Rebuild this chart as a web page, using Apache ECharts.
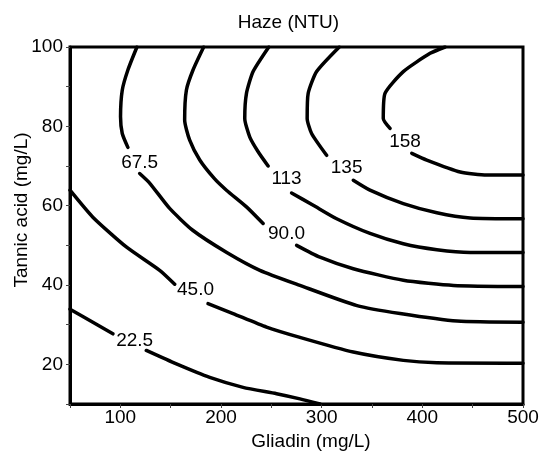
<!DOCTYPE html>
<html>
<head>
<meta charset="utf-8">
<script src="https://cdn.jsdelivr.net/npm/echarts@6/dist/echarts.min.js"></script>
<style>
  html, body { margin: 0; padding: 0; background: #fff; }
  #chart { width: 544px; height: 453px; }
</style>
</head>
<body>
<div id="chart"></div>
<script>
// Haze contour levels (NTU)
const levels = [22.5, 45, 67.5, 90, 112.5, 135, 157.5];

// Axis tick labels
const gliadinTicks = [100, 200, 300, 400, 500];
const tannicTicks = [20, 40, 60, 80, 100];

// Contour paths as [gliadin, tannic acid]; each level is split where its label sits
const c22a = [[50, 33.9], [72.7, 30.6], [92.6, 27.7]];
const c22b = [[125.8, 23.5], [155.7, 20.1], [188.8, 16.7], [221.9, 14.2], [255.2, 12.6], [278.4, 11.3], [298.3, 10]];

const c45a = [[50, 63.9], [72.7, 57.1], [105.9, 49.6], [139.1, 43.7], [154.0, 40.2]];
const c45b = [[187.1, 35.3], [212.0, 32.8], [245.2, 29.4], [278.4, 26.8], [331.4, 23.1], [381.1, 21.0], [414.4, 20.4], [500, 20.3]];

const c67a = [[116.5, 100], [107.5, 94.2], [101.9, 89.1], [100.2, 82.4], [101.9, 78.2], [107.5, 74.7]];
const c67b = [[119.2, 68.1], [129.1, 65.7], [149.0, 59.3], [171.9, 53.8], [205.7, 48.2], [238.6, 43.7], [278.4, 39.9], [335.1, 34.8], [377.9, 32.8], [434.6, 30.9], [500, 30.6]];

const c90a = [[182.8, 100], [172.2, 94.2], [165.6, 89.1], [163.9, 81.6], [168.9, 76.5], [178.9, 71.5], [193.5, 66.8], [205.4, 63.9], [225.3, 59.7], [241.8, 55.5]];
const c90b = [[275.1, 50.0], [298.3, 47.0], [331.4, 44.1], [381.1, 41.2], [430.9, 39.9], [500, 39.6]];

const c113a = [[247.5, 100], [231.9, 93.8], [225.3, 88.3], [223.6, 82.0], [228.6, 77.3], [236.9, 73.6], [246.8, 70.0]];
const c113b = [[270.1, 63.2], [291.6, 60.1], [314.9, 56.7], [348.0, 53.0], [381.1, 50.4], [414.4, 48.9], [447.5, 48.2], [500, 48.2]];

const c135a = [[317.5, 100], [295.0, 93.8], [286.6, 88.3], [285.6, 82.0], [290.0, 78.2], [304.9, 72.7]];
const c135b = [[331.4, 66.4], [348.0, 63.9], [381.1, 60.5], [414.4, 58.2], [447.5, 56.9], [500, 56.7]];

const c158a = [[422.6, 100], [407.7, 98.4], [381.1, 93.8], [362.9, 88.3], [361.2, 82.0], [367.9, 79.5]];
const c158b = [[389.5, 73.2], [404.4, 71.5], [437.6, 68.5], [464.1, 67.7], [500, 67.7]];

// Where each level's value is printed
const labelSpots = [[114.2, 26.0], [174.7, 38.9], [119.2, 70.7], [265.1, 52.9], [265.1, 66.8], [324.8, 69.6], [382.8, 76.1]];

const segments = [c22a, c22b, c45a, c45b, c67a, c67b, c90a, c90b, c113a, c113b, c135a, c135b, c158a, c158b];

const FONT = 'Liberation Sans';
const FS = 19;
const chart = echarts.init(document.getElementById('chart'), null, { renderer: 'canvas' });

const lineSeries = segments.map(function (seg) {
  return {
    type: 'line',
    data: seg,
    showSymbol: false,
    symbol: 'none',
    smooth: 0.2,
    silent: true,
    lineStyle: { color: '#000', width: 3.5, cap: 'round', join: 'round' },
    z: 3
  };
});

const labelSeries = {
  type: 'scatter',
  symbolSize: 0,
  silent: true,
  itemStyle: { opacity: 1 },
  data: labelSpots.map(function (p, i) { return [p[0], p[1], levels[i]]; }),
  label: {
    show: true,
    position: 'inside',
    formatter: function (p) { return p.value[2].toPrecision(3); },
    color: '#000',
    opacity: 1,
    fontFamily: FONT,
    fontSize: FS
  },
  z: 4
};

chart.setOption({
  animation: false,
  backgroundColor: '#fff',
  grid: {
    left: 70, right: 21, top: 47, bottom: 49,
    show: true, borderColor: '#000', borderWidth: 3, containLabel: false
  },
  xAxis: {
    type: 'value',
    min: 50, max: 500, interval: 50,
    axisLine: { show: true, lineStyle: { color: '#000', width: 3 } },
    axisTick: { show: true, length: 4, lineStyle: { color: '#444', width: 1 } },
    axisLabel: {
      margin: 4, color: '#000', fontFamily: FONT, fontSize: FS,
      formatter: function (v) { return gliadinTicks.indexOf(v) >= 0 ? String(v) : ''; }
    },
    splitLine: { show: false }
  },
  yAxis: {
    type: 'value',
    min: 10, max: 100, interval: 10,
    axisLine: { show: true, lineStyle: { color: '#000', width: 3 } },
    axisTick: { show: true, length: 4, lineStyle: { color: '#444', width: 1 } },
    axisLabel: {
      margin: 7, color: '#000', fontFamily: FONT, fontSize: FS,
      formatter: function (v) { return tannicTicks.indexOf(v) >= 0 ? String(v) : ''; }
    },
    splitLine: { show: false }
  },
  graphic: [
    {
      type: 'text', x: 288.5, y: 23, silent: true,
      style: { text: 'Haze (NTU)', font: FS + 'px "' + FONT + '"', fill: '#000', align: 'center', verticalAlign: 'middle' }
    },
    {
      type: 'text', x: 311, y: 442, silent: true,
      style: { text: 'Gliadin (mg/L)', font: FS + 'px "' + FONT + '"', fill: '#000', align: 'center', verticalAlign: 'middle' }
    },
    {
      type: 'text', x: 21.5, y: 210, rotation: Math.PI / 2, silent: true,
      style: {
        text: 'Tannic acid (mg/L)', font: FS + 'px "' + FONT + '"', fill: '#000',
        align: 'center', verticalAlign: 'middle'
      }
    }
  ],
  series: lineSeries.concat([labelSeries])
});
</script>
</body>
</html>
